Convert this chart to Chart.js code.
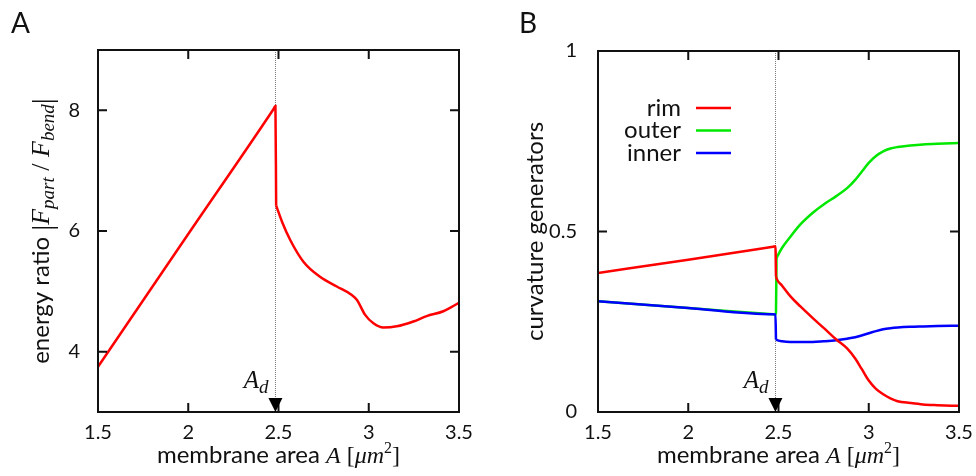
<!DOCTYPE html>
<html>
<head>
<meta charset="utf-8">
<script src="https://cdn.jsdelivr.net/npm/chart.js@4.4.0/dist/chart.umd.min.js"></script>
<style>
body{margin:0;background:#fff;}
#wrap{position:relative;width:976px;height:476px;}
.panel{position:absolute;top:0;width:488px;height:476px;}
</style>
</head>
<body>
<div id="wrap">
  <div class="panel" style="left:0"><canvas id="chartA" width="488" height="476"></canvas></div>
  <div class="panel" style="left:488px"><canvas id="chartB" width="488" height="476"></canvas></div>
</div>
<script>
// panel A : energy ratio
var areaA  = [1.5, 2.0, 2.47, 2.483, 2.487, 2.52, 2.565, 2.638, 2.73, 2.823, 2.906, 2.934, 2.98, 3.026, 3.081, 3.155, 3.247, 3.321, 3.413, 3.5];
var ratioA = [3.75, 5.95, 8.01, 8.07, 6.42, 6.15, 5.85, 5.49, 5.24, 5.08, 4.94, 4.86, 4.61, 4.47, 4.40, 4.42, 4.50, 4.59, 4.67, 4.81];

// panel B : curvature generators
var areaB  = [1.5, 2.0, 2.47, 2.483, 2.486, 2.489, 2.52, 2.565, 2.62, 2.69, 2.75, 2.82, 2.88, 2.925, 2.96, 3.0, 3.04, 3.08, 3.12, 3.16, 3.23, 3.3, 3.38, 3.5];
var rimB   = [0.385, 0.422, 0.458, 0.459, 0.376, 0.370, 0.350, 0.321, 0.293, 0.260, 0.233, 0.201, 0.176, 0.148, 0.120, 0.087, 0.064, 0.049, 0.038, 0.030, 0.025, 0.021, 0.019, 0.017];
var outerB = [0.307, 0.288, 0.2705, 0.270, 0.275, 0.427, 0.455, 0.485, 0.519, 0.552, 0.575, 0.598, 0.620, 0.643, 0.665, 0.690, 0.709, 0.722, 0.730, 0.734, 0.738, 0.741, 0.743, 0.745];
var innerB = [0.307, 0.288, 0.2705, 0.270, 0.201, 0.200, 0.196, 0.194, 0.194, 0.194, 0.196, 0.199, 0.203, 0.207, 0.212, 0.218, 0.224, 0.229, 0.232, 0.234, 0.236, 0.237, 0.238, 0.239];
// index where each curve lands after its jump at A_d
var jumpA = 4;
var jumpB = [4, 5, 4];

var seriesNames = ['rim', 'outer', 'inner'];
var seriesColors = ['#ff0000', '#00e800', '#0000ff'];
var seriesOrder = [0, 2, 1];

var xTicks  = [1.5, 2, 2.5, 3, 3.5];
var yTicksA = [4, 6, 8];
var yTicksB = [0, 0.5, 1];
var areaD = 2.483;

var sans = 'Lato, sans-serif';
var serif = '"Liberation Serif", serif';
var ink = '#111';

function pts(xs, ys, from, to){
    var out = [];
    for (var i = from; i < to; i++) out.push({x: xs[i], y: ys[i]});
    return out;
}

// a curve split at its jump so the smoothing does not ring
function curve(xs, ys, k, label, color, order){
    return [
        {label: label, data: pts(xs, ys, 0, k + 1), borderColor: color, fill: false, order: order},
        {label: label, data: pts(xs, ys, k, xs.length), borderColor: color, fill: false, order: order}
    ];
}

// draw a run of text pieces [text, font, dy]
function drawParts(ctx, parts, x, y, align){
    var w = 0, i;
    for (i = 0; i < parts.length; i++){ ctx.font = parts[i][1]; w += ctx.measureText(parts[i][0]).width; }
    var cx = align === 'center' ? x - w/2 : (align === 'right' ? x - w : x);
    ctx.textAlign = 'left';
    ctx.textBaseline = 'alphabetic';
    for (i = 0; i < parts.length; i++){
        ctx.font = parts[i][1];
        ctx.fillText(parts[i][0], cx, y + (parts[i][2] || 0));
        cx += ctx.measureText(parts[i][0]).width;
    }
}

var xTitle = [
    ['membrane area ', '24px ' + sans],
    ['A', 'italic 24px ' + serif],
    [' [', '24px ' + serif],
    ['\u03bcm', 'italic 24px ' + serif],
    ['2', '16px ' + serif, -10],
    [']', '24px ' + serif]
];

function framePlugin(cfg){
    return {
        id: 'frame' + cfg.letter,
        beforeDatasetsDraw: function(chart){
            var ctx = chart.ctx, a = chart.chartArea;
            var px = Math.round(chart.scales.x.getPixelForValue(areaD)) + 0.5;
            ctx.save();
            ctx.strokeStyle = '#7a7a7a';
            ctx.lineWidth = 1;
            ctx.setLineDash([1, 1]);
            ctx.beginPath(); ctx.moveTo(px, a.top); ctx.lineTo(px, a.bottom); ctx.stroke();
            ctx.restore();
        },
        afterDatasetsDraw: function(chart){
            var ctx = chart.ctx, a = chart.chartArea;
            var xs = chart.scales.x, ys = chart.scales.y;
            var tl = 9;
            ctx.save();
            ctx.strokeStyle = ink;
            ctx.lineWidth = 2;
            ctx.strokeRect(a.left, a.top, a.right - a.left, a.bottom - a.top);
            ctx.beginPath();
            xs.ticks.forEach(function(t){
                var p = xs.getPixelForValue(t.value);
                if (p - a.left < 2 || a.right - p < 2) return;
                ctx.moveTo(p, a.bottom); ctx.lineTo(p, a.bottom - tl);
                ctx.moveTo(p, a.top); ctx.lineTo(p, a.top + tl);
            });
            ys.ticks.forEach(function(t){
                var p = ys.getPixelForValue(t.value);
                if (p - a.top < 2 || a.bottom - p < 2) return;
                ctx.moveTo(a.left, p); ctx.lineTo(a.left + tl, p);
                ctx.moveTo(a.right, p); ctx.lineTo(a.right - tl, p);
            });
            ctx.stroke();

            // A_d marker
            var px = xs.getPixelForValue(areaD);
            ctx.fillStyle = '#000';
            ctx.beginPath();
            ctx.moveTo(px, a.bottom);
            ctx.lineTo(px - 7, a.bottom - 14);
            ctx.lineTo(px + 7, a.bottom - 14);
            ctx.closePath();
            ctx.fill();
            ctx.fillStyle = ink;
            drawParts(ctx, [['A', 'italic 25px ' + serif], ['d', 'italic 19px ' + serif, 5]], px - 7, 388, 'right');

            // panel letter
            ctx.font = '28px ' + sans;
            ctx.textAlign = 'left';
            ctx.textBaseline = 'alphabetic';
            ctx.fillText(cfg.letter, cfg.letterX, 33);

            // axis titles
            drawParts(ctx, xTitle, (a.left + a.right) / 2, 463, 'center');
            ctx.save();
            ctx.translate(cfg.yTitleX, (a.top + a.bottom) / 2);
            ctx.rotate(-Math.PI / 2);
            drawParts(ctx, cfg.yTitle, 0, 0, 'center');
            ctx.restore();

            // legend
            if (cfg.legend){
                for (var i = 0; i < seriesNames.length; i++){
                    var y = 108 + i * 22.5;
                    ctx.font = '24px ' + sans;
                    ctx.textAlign = 'right';
                    ctx.textBaseline = 'middle';
                    ctx.fillStyle = ink;
                    ctx.fillText(seriesNames[i], 193, y);
                    ctx.strokeStyle = seriesColors[i];
                    ctx.lineWidth = 2.5;
                    ctx.beginPath(); ctx.moveTo(208, y); ctx.lineTo(243, y); ctx.stroke();
                }
            }
            ctx.restore();
        }
    };
}

function axes(yMin, yMax, yTicks, left, labPad){
    return {
        x: {
            type: 'linear', min: 1.5, max: 3.5,
            grid: {display: false}, border: {display: false},
            afterBuildTicks: function(s){ s.ticks = xTicks.map(function(v){ return {value: v}; }); },
            afterFit: function(s){ s.height = 64; },
            ticks: {color: ink, font: {family: 'Lato', size: 20}, padding: 1, maxRotation: 0,
                    callback: function(v){ return String(v); }}
        },
        y: {
            type: 'linear', min: yMin, max: yMax,
            grid: {display: false}, border: {display: false},
            afterBuildTicks: function(s){ s.ticks = yTicks.map(function(v){ return {value: v}; }); },
            afterFit: function(s){ s.width = left; },
            ticks: {color: ink, font: {family: 'Lato', size: 20}, padding: labPad,
                    callback: function(v){ return String(v); }}
        }
    };
}

var common = {
    responsive: false,
    animation: false,
    elements: {point: {radius: 0}, line: {borderWidth: 2.5, cubicInterpolationMode: 'monotone'}},
    plugins: {legend: {display: false}, tooltip: {enabled: false}}
};

new Chart(document.getElementById('chartA').getContext('2d'), {
    type: 'line',
    data: {datasets: curve(areaA, ratioA, jumpA, 'ratio', '#ff0000', 0)},
    options: Object.assign({}, common, {
        layout: {padding: {left: 0, top: 50, right: 29, bottom: 0}},
        scales: axes(3, 9, yTicksA, 98, 10)
    }),
    plugins: [framePlugin({
        letter: 'A', letterX: 11, yTitleX: 49,
        yTitle: [
            ['energy ratio ', '24px ' + sans],
            ['|', '30px ' + serif, 3],
            ['F', 'italic 26px ' + serif],
            ['part', 'italic 19px ' + serif, 5],
            [' / ', '26px ' + serif],
            ['F', 'italic 26px ' + serif],
            ['bend', 'italic 19px ' + serif, 5],
            ['|', '30px ' + serif, 3]
        ]
    })]
});

var dsB = [];
for (var s = 0; s < 3; s++){
    var ys = [rimB, outerB, innerB][s];
    dsB = dsB.concat(curve(areaB, ys, jumpB[s], seriesNames[s], seriesColors[s], seriesOrder[s]));
}

new Chart(document.getElementById('chartB').getContext('2d'), {
    type: 'line',
    data: {datasets: dsB},
    options: Object.assign({}, common, {
        layout: {padding: {left: 0, top: 51, right: 17, bottom: 0}},
        scales: axes(0, 1, yTicksB, 110, 13)
    }),
    plugins: [framePlugin({
        letter: 'B', letterX: 31, yTitleX: 55, legend: true,
        yTitle: [['curvature generators', '24px ' + sans]]
    })]
});
</script>
</body>
</html>
